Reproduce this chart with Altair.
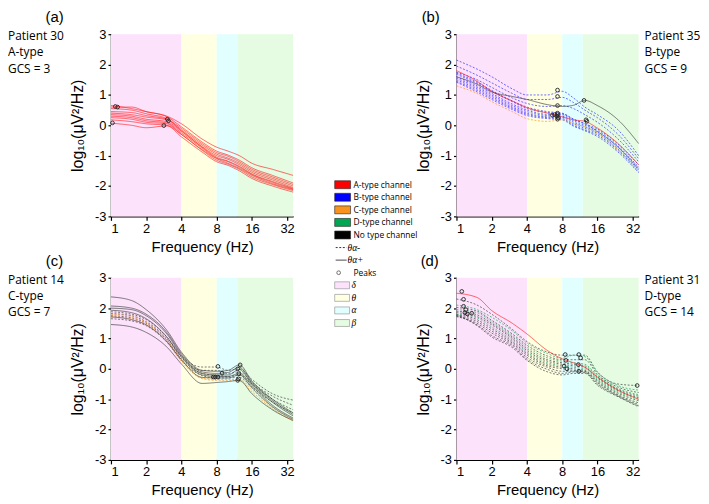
import altair as alt
import pandas as pd

# ---------------- data ----------------
FREQS = [1, 1.5, 2, 3, 4, 6, 8, 10, 12.5, 16, 24, 36]

BANDS = ["δ", "θ", "α", "β"]
BAND_LO = [1, 4, 8, 12]
BAND_HI = [4, 8, 12, 36]
BAND_COLORS = ["#fde2fc", "#ffffe2", "#e2ffff", "#e5fce2"]

TYPES = ["A", "B", "C", "D", "N"]
TYPE_LABELS = ["A-type channel", "B-type channel", "C-type channel", "D-type channel", "No type channel"]
TYPE_COLORS = ["#ff0000", "#0000ff", "#f7931e", "#00a651", "#000000"]
LINE_COLORS = ["#ff1a1a", "#2a2aff", "#f7931e", "#1aa060", "#3a3a3a"]

X_TICKS = [1, 2, 4, 8, 16, 32]
Y_TICKS = [-3, -2, -1, 0, 1, 2, 3]

# Panel (a) Patient 30, A-type
A_RED = [
    [0.65, 0.55, 0.45, 0.30, 0.05, -0.45, -0.72, -0.85, -1.00, -1.25, -1.45, -1.65],
    [0.60, 0.60, 0.45, 0.28, -0.05, -0.55, -0.85, -0.98, -1.15, -1.40, -1.65, -1.90],
    [0.55, 0.50, 0.38, 0.22, -0.10, -0.60, -0.90, -1.02, -1.20, -1.45, -1.70, -1.95],
    [0.45, 0.42, 0.32, 0.20, -0.15, -0.65, -0.95, -1.08, -1.25, -1.50, -1.75, -2.00],
    [0.40, 0.35, 0.27, 0.18, -0.18, -0.70, -1.00, -1.12, -1.30, -1.55, -1.80, -2.05],
    [0.35, 0.30, 0.20, 0.12, -0.20, -0.72, -1.05, -1.18, -1.35, -1.60, -1.85, -2.08],
    [0.30, 0.25, 0.15, 0.08, -0.25, -0.75, -1.08, -1.20, -1.38, -1.62, -1.88, -2.10],
    [0.25, 0.20, 0.10, 0.05, -0.30, -0.80, -1.10, -1.25, -1.42, -1.65, -1.92, -2.12],
    [0.18, 0.12, 0.05, 0.00, -0.30, -0.82, -1.15, -1.28, -1.45, -1.70, -1.95, -2.15],
    [0.07, 0.00, -0.08, -0.02, -0.38, -0.88, -1.20, -1.32, -1.50, -1.75, -2.00, -2.20],
]
A_PEAK_F = [1.09, 1.14, 1.03, 2.83, 3.03, 3.10]
A_PEAK_V = [0.62, 0.60, 0.08, -0.01, 0.20, 0.15]

# Panel (b) Patient 35, B-type
B_BLUE = [
    [2.15, 1.85, 1.60, 1.20, 1.00, 1.00, 1.12, 0.90, 0.60, 0.35, -0.15, -1.00],
    [1.95, 1.65, 1.40, 1.05, 0.85, 0.85, 0.92, 0.75, 0.50, 0.25, -0.30, -1.10],
    [1.75, 1.50, 1.25, 0.90, 0.72, 0.62, 0.65, 0.55, 0.35, 0.10, -0.45, -1.20],
    [1.68, 1.38, 1.12, 0.78, 0.55, 0.42, 0.38, 0.20, 0.05, -0.12, -0.62, -1.30],
    [1.60, 1.30, 1.05, 0.70, 0.50, 0.36, 0.35, 0.15, 0.00, -0.17, -0.68, -1.38],
    [1.55, 1.25, 1.00, 0.65, 0.45, 0.32, 0.30, 0.10, -0.05, -0.22, -0.72, -1.42],
    [1.50, 1.20, 0.95, 0.60, 0.40, 0.28, 0.26, 0.05, -0.10, -0.27, -0.78, -1.47],
    [1.45, 1.15, 0.90, 0.56, 0.36, 0.25, 0.22, 0.00, -0.15, -0.32, -0.83, -1.52],
    [1.42, 1.10, 0.85, 0.52, 0.32, 0.22, 0.18, -0.03, -0.18, -0.37, -0.88, -1.56],
    [1.72, 1.42, 1.15, 0.80, 0.60, 0.45, 0.40, 0.20, 0.05, -0.20, -0.72, -1.45],
]
B_ORANGE = [
    [1.30, 1.05, 0.78, 0.45, 0.22, 0.13, 0.18, 0.05, -0.05, -0.25, -0.80, -1.45],
]
B_RED = [
    [1.80, 1.45, 1.12, 0.80, 0.58, 0.40, 0.28, 0.18, 0.13, -0.09, -0.60, -1.30],
]
B_NONE = [
    [1.60, 1.35, 1.10, 0.95, 0.85, 0.68, 0.62, 0.66, 0.82, 0.65, 0.18, -0.60],
]
B_PEAK_F = [7.3, 7.3, 7.3, 7.3, 7.3, 7.2, 7.4, 7.3, 6.6, 6.9, 12.3, 12.8, 13.0]
B_PEAK_V = [1.16, 0.95, 0.65, 0.40, 0.35, 0.30, 0.25, 0.20, 0.33, 0.35, 0.82, 0.18, 0.13]

# Panel (c) Patient 14, C-type
C_SOLID = [
    [2.37, 2.25, 1.95, 1.27, 0.55, -0.05, -0.08, -0.05, 0.13, -0.40, -1.00, -1.45],
    [2.07, 2.00, 1.80, 1.20, 0.50, -0.10, -0.15, -0.12, 0.05, -0.45, -1.05, -1.50],
    [2.00, 1.95, 1.75, 1.15, 0.45, -0.15, -0.20, -0.20, -0.02, -0.50, -1.10, -1.55],
    [1.93, 1.85, 1.65, 1.05, 0.40, -0.20, -0.25, -0.25, -0.15, -0.55, -1.20, -1.62],
    [1.71, 1.62, 1.45, 0.90, 0.30, -0.28, -0.30, -0.30, -0.20, -0.62, -1.25, -1.66],
    [1.46, 1.38, 1.20, 0.72, 0.16, -0.48, -0.45, -0.42, -0.38, -0.82, -1.35, -1.70],
]
C_DOTTED = [
    [1.88, 1.80, 1.62, 1.05, 0.42, 0.06, 0.06, -0.05, 0.00, -0.35, -0.82, -1.03],
    [1.82, 1.75, 1.55, 1.00, 0.38, -0.05, -0.05, -0.15, -0.10, -0.45, -0.90, -1.20],
    [1.75, 1.68, 1.50, 0.95, 0.33, -0.15, -0.22, -0.25, -0.20, -0.50, -1.00, -1.35],
    [1.65, 1.58, 1.42, 0.88, 0.28, -0.22, -0.30, -0.30, -0.28, -0.60, -1.10, -1.45],
]
C_ORANGE = [
    [1.80, 1.72, 1.52, 0.95, 0.30, -0.30, -0.35, -0.35, -0.35, -0.68, -1.28, -1.70],
    [1.72, 1.65, 1.45, 0.90, 0.25, -0.32, -0.38, -0.38, -0.40, -0.75, -1.32, -1.72],
]
C_PEAK_F = [8.2, 8.9, 7.5, 7.8, 8.2, 12.7, 12.1, 12.4, 12.3, 12.1]
C_PEAK_V = [0.08, -0.14, -0.27, -0.27, -0.27, 0.13, 0.00, -0.16, -0.33, -0.38]

# Panel (d) Patient 31, D-type
D_RED = [
    [2.49, 2.35, 1.92, 1.50, 1.15, 0.60, 0.33, 0.20, 0.05, -0.27, -0.70, -1.00],
]
D_DASHED = [
    [2.30, 2.10, 1.80, 1.30, 0.90, 0.55, 0.45, 0.45, 0.45, -0.10, -0.50, -0.55],
    [2.02, 1.90, 1.60, 1.15, 0.78, 0.42, 0.30, 0.30, 0.30, -0.18, -0.60, -0.78],
    [1.90, 1.78, 1.50, 1.05, 0.66, 0.30, 0.20, 0.15, 0.10, -0.26, -0.68, -0.90],
    [1.85, 1.72, 1.45, 1.00, 0.60, 0.25, 0.15, 0.10, 0.05, -0.30, -0.72, -0.95],
    [1.78, 1.62, 1.32, 0.90, 0.50, 0.15, 0.05, 0.00, -0.05, -0.38, -0.80, -1.05],
    [1.75, 1.56, 1.25, 0.85, 0.45, 0.10, 0.00, -0.05, -0.08, -0.42, -0.85, -1.12],
    [1.72, 1.50, 1.18, 0.80, 0.38, 0.05, -0.08, -0.08, -0.10, -0.46, -0.88, -1.18],
    [1.75, 1.45, 1.10, 0.75, 0.32, -0.02, -0.15, -0.10, -0.12, -0.50, -0.90, -1.22],
    [1.80, 1.42, 1.05, 0.70, 0.28, -0.10, -0.20, -0.15, -0.15, -0.54, -0.92, -1.25],
]
D_GREEN = [
    [2.10, 1.95, 1.70, 1.25, 0.85, 0.50, 0.35, 0.45, 0.40, -0.12, -0.55, -0.70],
    [1.95, 1.85, 1.55, 1.10, 0.72, 0.36, 0.25, 0.20, 0.15, -0.22, -0.65, -0.85],
    [1.80, 1.68, 1.38, 0.95, 0.55, 0.20, 0.10, 0.05, 0.00, -0.34, -0.76, -1.00],
]
D_PEAK_F = [1.11, 1.15, 1.15, 1.2, 1.24, 1.18, 1.35, 8.5, 8.6, 8.3, 8.8, 11.1, 11.5, 11.0, 11.1, 35.0]
D_PEAK_V = [2.55, 2.29, 2.06, 1.95, 1.81, 1.85, 1.83, 0.47, 0.28, 0.09, 0.00, 0.47, 0.36, 0.14, -0.08, -0.55]

# ---------------- chart ----------------
W = H = 184
X_SCALE = alt.Scale(type="log", base=2, domain=[1, 36], nice=False)
Y_SCALE = alt.Scale(domain=[-3, 3], nice=False, zero=False)
X_AXIS = alt.Axis(values=X_TICKS, labelExpr="'' + datum.value", title="Frequency (Hz)")
Y_AXIS = alt.Axis(values=Y_TICKS, labelExpr="'' + datum.value", title="log₁₀(μV²/Hz)")
FONT = "Liberation Sans"
SANS = "Open Sans"


def lines_df(groups):
    rows = []
    for gname, lines, typ, style in groups:
        for i, vals in enumerate(lines):
            for f, v in zip(FREQS, vals):
                rows.append({"id": f"{gname}{i}", "type": typ, "style": style, "f": f, "v": v})
    return pd.DataFrame(rows)


def one(**kw):
    return alt.Chart(pd.DataFrame({k: [v] for k, v in kw.items()}))


def text_at(txt, x, y, size=11, font=SANS, style="normal", align="left"):
    return one(t=txt).mark_text(
        align=align, baseline="middle", font=font, fontSize=size, fontStyle=style, color="black"
    ).encode(x=alt.value(x), y=alt.value(y), text="t:N")


def panel(groups, pf, pv, letter, letter_x, info, info_x, extra=()):
    band_df = pd.DataFrame({"band": BANDS, "lo": BAND_LO, "hi": BAND_HI})
    bands = alt.Chart(band_df).mark_rect().encode(
        x=alt.X("lo:Q", scale=X_SCALE, axis=X_AXIS),
        x2="hi:Q",
        y=alt.value(0),
        y2=alt.value(H),
        fill=alt.Fill("band:N", scale=alt.Scale(domain=BANDS, range=BAND_COLORS), legend=None),
    )
    lines = alt.Chart(lines_df(groups)).mark_line(
        interpolate="monotone", strokeWidth=0.9, opacity=0.75
    ).encode(
        x=alt.X("f:Q", scale=X_SCALE, axis=X_AXIS),
        y=alt.Y("v:Q", scale=Y_SCALE, axis=Y_AXIS),
        stroke=alt.Stroke("type:N", scale=alt.Scale(domain=TYPES, range=LINE_COLORS), legend=None),
        strokeDash=alt.StrokeDash("style:N", scale=alt.Scale(domain=["minus", "plus"], range=[[2, 1.6], [1, 0]]), legend=None),
        detail="id:N",
    )
    peaks = alt.Chart(pd.DataFrame({"f": pf, "v": pv})).mark_point(
        shape="circle", filled=False, size=14, color="#222222", strokeWidth=0.9, opacity=1
    ).encode(
        x=alt.X("f:Q", scale=X_SCALE, axis=X_AXIS),
        y=alt.Y("v:Q", scale=Y_SCALE, axis=Y_AXIS),
    )
    layers = [bands, lines, peaks, text_at(letter, letter_x, -17, size=15, font=FONT, align="center")]
    for k, line in enumerate(info):
        layers.append(text_at(line, info_x, 2 + 16.5 * k, size=12))
    layers.extend(extra)
    return alt.layer(*layers).properties(width=W, height=H)


# legend drawn beside panel (a)
LX = 226
LY0 = 152
LDY = 12.7
legend = []
for i, (lab, col) in enumerate(zip(TYPE_LABELS, TYPE_COLORS)):
    yc = LY0 + LDY * i
    legend.append(one(a=0).mark_rect(fill=col, stroke="#222222", strokeWidth=0.6).encode(
        x=alt.value(LX), x2=alt.value(LX + 16), y=alt.value(yc - 4), y2=alt.value(yc + 4)))
    legend.append(text_at(lab, LX + 19, yc, size=8.5))
for j, (lab, dash) in enumerate([("θα-", [2, 1.6]), ("θα+", [1, 0])]):
    yc = LY0 + LDY * (5 + j)
    legend.append(one(a=0).mark_rule(stroke="#333333", strokeWidth=1, strokeDash=dash).encode(
        x=alt.value(LX + 1), x2=alt.value(LX + 12), y=alt.value(yc)))
    legend.append(text_at(lab, LX + 13, yc, size=9.5, font="Liberation Serif", style="italic"))
yc = LY0 + LDY * 7
legend.append(one(a=0).mark_point(shape="circle", filled=False, size=14, color="#222222", strokeWidth=0.9).encode(
    x=alt.value(LX + 4), y=alt.value(yc)))
legend.append(text_at("Peaks", LX + 19, yc, size=8.5))
for k, (lab, col) in enumerate(zip(BANDS, BAND_COLORS)):
    yc = LY0 + LDY * (8 + k)
    legend.append(one(a=0).mark_rect(fill=col, stroke="#888888", strokeWidth=0.6).encode(
        x=alt.value(LX), x2=alt.value(LX + 15), y=alt.value(yc - 3.5), y2=alt.value(yc + 3.5)))
    legend.append(text_at(lab, LX + 17, yc, size=9.5, font="Liberation Serif", style="italic"))

pa = panel([("a", A_RED, "A", "plus")], A_PEAK_F, A_PEAK_V, "(a)", -57,
           ["Patient 30", "A-type", "GCS = 3"], -104, extra=legend)
pb = panel([("b", B_BLUE, "B", "minus"), ("o", B_ORANGE, "C", "minus"),
            ("r", B_RED, "A", "plus"), ("n", B_NONE, "N", "plus")],
           B_PEAK_F, B_PEAK_V, "(b)", -26, ["Patient 35", "B-type", "GCS = 9"], 190)
pc = panel([("d", C_DOTTED, "N", "minus"), ("o", C_ORANGE, "C", "minus"), ("s", C_SOLID, "N", "plus")],
           C_PEAK_F, C_PEAK_V, "(c)", -57, ["Patient 14", "C-type", "GCS = 7"], -104)
pd_ = panel([("k", D_DASHED, "N", "minus"), ("g", D_GREEN, "D", "minus"), ("r", D_RED, "A", "plus")],
            D_PEAK_F, D_PEAK_V, "(d)", -27, ["Patient 31", "D-type", "GCS = 14"], 190)

chart = alt.concat(
    pa, pb, pc, pd_, columns=2, spacing={"row": 62, "column": 165}, bounds="flush"
).properties(padding=0, background="white").configure_view(stroke=None).configure_axis(
    grid=False,
    domainColor="black", domainWidth=1.4,
    tickColor="black", tickSize=4, tickWidth=1.2,
    labelFont=FONT, labelFontSize=13, labelColor="black", labelPadding=2,
    titleFont=FONT, titleFontSize=15, titleFontWeight="normal", titleColor="black", titlePadding=4,
).configure_axisY(titlePadding=9, titleFontSize=16, tickSize=3)

chart.save("out.html", embed_options={"renderer": "svg", "actions": False})
